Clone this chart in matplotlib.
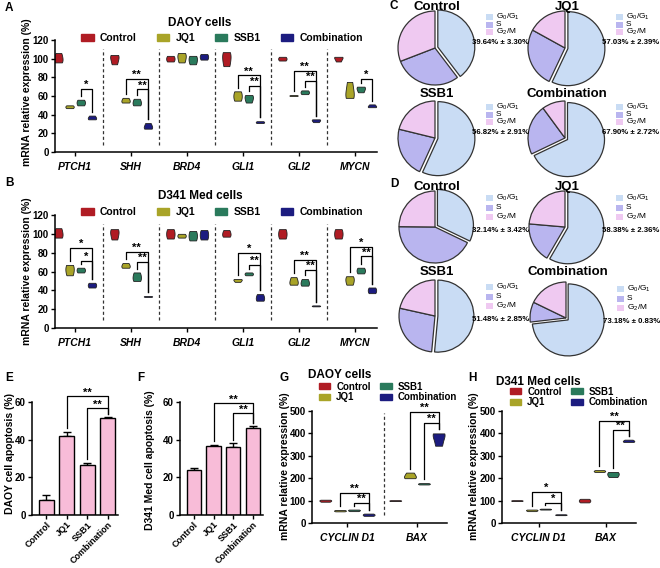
import numpy as np
import matplotlib
matplotlib.use('Agg')
import matplotlib.pyplot as plt
from matplotlib.patches import Patch, Rectangle

plt.rcParams['font.family'] = ['Liberation Sans', 'DejaVu Sans']
plt.rcParams['font.weight'] = 'bold'
plt.rcParams['mathtext.fontset'] = 'custom'
plt.rcParams['mathtext.rm'] = 'Liberation Sans'
plt.rcParams['axes.linewidth'] = 1.1

# ---- data ----
groups = ['Control', 'JQ1', 'SSB1', 'Combination']
genes = ['PTCH1', 'SHH', 'BRD4', 'GLI1', 'GLI2', 'MYCN']

# A: DAOY, three replicates per gene
daoy_control = [(96, 100, 106), (94, 101, 104), (97, 100, 103), (92, 101, 107), (98, 100, 102), (97, 101, 102)]
daoy_jq1 = [(47, 48.5, 50), (53, 55, 58), (96, 102, 106), (55, 60, 65), (60, 60.5, 61), (58, 63, 75)]
daoy_ssb1 = [(50, 53, 56), (50, 53, 57), (94, 99, 103), (53, 58, 61), (62, 64, 66), (64, 68, 70)]
daoy_comb = [(35, 36.5, 39), (25, 27, 31), (99, 102, 105), (31, 32, 33), (32, 34, 35), (48, 49, 51)]
# (gene, compared group, bracket height, label)
daoy_sig = [(0, 2, 68, '*'), (1, 1, 78, '**'), (1, 2, 67, '**'), (3, 1, 82, '**'), (3, 2, 71, '**'),
            (4, 1, 87, '**'), (4, 2, 76, '**'), (5, 2, 78, '*')]

# B: D341 Med
d341_control = [(96, 100, 106), (94, 101, 105), (95, 100, 105), (97, 100, 104), (95, 100, 105), (95, 100, 105)]
d341_jq1 = [(56, 62, 67), (64, 66, 69), (96, 98, 100), (49, 51, 52), (46, 49, 54), (46, 51, 55)]
d341_ssb1 = [(59, 61.5, 64), (50, 54, 59), (93, 98, 103), (56, 57.5, 59), (45, 48, 52), (58, 61, 64)]
d341_comb = [(43, 45.5, 48), (33, 33.5, 34), (94, 99, 104), (29, 32, 36), (23, 23.5, 24), (37, 40, 43)]
d341_sig = [(0, 1, 85, '*'), (0, 2, 71, '*'), (1, 1, 81, '**'), (1, 2, 70, '**'), (3, 1, 80, '*'),
            (3, 2, 67, '**'), (4, 1, 72, '**'), (4, 2, 62, '**'), (5, 1, 86, '*'), (5, 2, 76, '**')]

# C / D: cell cycle (G0/G1, S, G2/M)
phases = [r'$\mathregular{G_0/G_1}$', 'S', r'$\mathregular{G_2/M}$']
daoy_cycle_control = [39.64, 29.5, 30.86]
daoy_cycle_jq1 = [57.03, 26.0, 16.97]
daoy_cycle_ssb1 = [56.82, 22.0, 21.18]
daoy_cycle_comb = [67.90, 22.0, 10.10]
daoy_g1_sd = [3.30, 2.39, 2.91, 2.72]
d341_cycle_control = [32.14, 43.0, 24.86]
d341_cycle_jq1 = [58.38, 18.0, 23.62]
d341_cycle_ssb1 = [51.48, 27.0, 21.52]
d341_cycle_comb = [73.18, 9.0, 17.82]
d341_g1_sd = [3.42, 2.36, 2.85, 0.83]

# E / F: apoptosis
daoy_apop = [8, 42, 26.5, 51.5]
daoy_apop_err = [2.7, 2.0, 1.0, 0.6]
daoy_apop_sig = [(1, 63, '**'), (2, 57, '**')]
d341_apop = [24, 36.5, 36, 46]
d341_apop_err = [1.0, 0.8, 2.0, 1.2]
d341_apop_sig = [(1, 59.5, '**'), (2, 54, '**')]

# G / H: CYCLIN D1, BAX
genes2 = ['CYCLIN D1', 'BAX']
daoy2_control = [(95, 100, 104), (98, 100, 102)]
daoy2_jq1 = [(52, 55, 58), (200, 208, 225)]
daoy2_ssb1 = [(53, 57, 60), (172, 175, 178)]
daoy2_comb = [(32, 37, 42), (345, 392, 400)]
daoy2_sig = [(0, 1, 134, '**'), (0, 2, 89, '**'), (1, 1, 495, '**'), (1, 2, 446, '**')]
d3412_control = [(98, 100, 102), (92, 100, 108)]
d3412_jq1 = [(53, 57, 60), (228, 232, 236)]
d3412_ssb1 = [(60, 62, 64), (205, 218, 228)]
d3412_comb = [(35, 37, 39), (362, 366, 372)]
d3412_sig = [(0, 1, 138, '*'), (0, 2, 89, '*'), (1, 1, 455, '**'), (1, 2, 415, '**')]

grp_colors = ['#b01c24', '#a9a428', '#2a7a5c', '#1c1c80']
pie_colors = ['#c9dcf4', '#b9b5ef', '#efc9f1']
bar_color = '#f8bcd8'

W, H = 660, 568
fig = plt.figure(figsize=(W / 100, H / 100), dpi=100)


def fx(x):
    return x / W


def fy(y):
    return 1 - y / H


def px_axes(l, t, r, b):
    return fig.add_axes([l / W, 1 - b / H, (r - l) / W, (b - t) / H])


def style_axes(ax):
    ax.spines['top'].set_visible(False)
    ax.spines['right'].set_visible(False)
    ax.tick_params(length=3, width=1, labelsize=7, pad=1.5)


def violin_panel(ax, sets, offsets, width, labels, sig, gap, seps, sep_range):
    for gi, data in enumerate(sets):
        pos = np.arange(len(data)) + offsets[gi]
        parts = ax.violinplot([list(d) for d in data], positions=pos, widths=width,
                              showextrema=False)
        for b in parts['bodies']:
            b.set_facecolor(grp_colors[gi])
            b.set_edgecolor('#222222')
            b.set_linewidth(0.6)
            b.set_alpha(1)
    for x in seps:
        ax.plot([x, x], sep_range, ls=(0, (2.5, 2)), color='#333333', lw=0.9)
    for gene_i, left, y, lab in sig:
        x1 = gene_i + offsets[left]
        x2 = gene_i + offsets[3]
        y1 = max(sets[left][gene_i]) + gap
        y2 = max(sets[3][gene_i]) + gap
        ax.plot([x1, x1, x2, x2], [y1, y, y, y2], color='k', lw=0.9, clip_on=False)
        ax.text((x1 + x2) / 2, y - gap * 0.3, lab, ha='center', va='bottom', fontsize=8,
                fontweight='bold', clip_on=False)
    style_axes(ax)
    ax.set_xticks(np.arange(len(labels)))
    ax.set_xticklabels(labels, fontstyle='italic', fontsize=7.5)
    ax.tick_params(axis='x', pad=4)


def group_legend(x, y, ncol, fs, colsp):
    handles = [Patch(facecolor=c, edgecolor=c) for c in grp_colors]
    fig.legend(handles, groups, ncol=ncol, loc='center', bbox_to_anchor=(fx(x), fy(y)),
               frameon=False, fontsize=fs, handlelength=1.2, handleheight=0.6,
               handletextpad=0.6, columnspacing=colsp, labelspacing=0.1, borderpad=0)


# ---- A ----
ax = px_axes(55, 40, 377, 152)
violin_panel(ax, [daoy_control, daoy_jq1, daoy_ssb1, daoy_comb], [-0.3, -0.1, 0.1, 0.3],
             0.15, genes, daoy_sig, 4, [0.5, 1.5, 2.5, 3.5, 4.5], [8, 110])
ax.set_xlim(-0.36, 5.39)
ax.set_ylim(0, 120)
ax.set_yticks(range(0, 121, 20))
fig.text(fx(27), fy(92), 'mRNA relative expression (%)', rotation=90, ha='center', va='center', fontsize=7.5)
fig.text(fx(200), fy(23), 'DAOY cells', ha='center', va='center', fontsize=8.5)
group_legend(222, 38, 4, 7.5, 1.9)

# ---- B ----
ax = px_axes(55, 215, 377, 328)
violin_panel(ax, [d341_control, d341_jq1, d341_ssb1, d341_comb], [-0.3, -0.1, 0.1, 0.3],
             0.15, genes, d341_sig, 4, [0.5, 1.5, 2.5, 3.5, 4.5], [8, 110])
ax.set_xlim(-0.36, 5.39)
ax.set_ylim(0, 120)
ax.set_yticks(range(0, 121, 20))
fig.text(fx(27), fy(271), 'mRNA relative expression (%)', rotation=90, ha='center', va='center', fontsize=7.5)
fig.text(fx(200), fy(196), 'D341 Med cells', ha='center', va='center', fontsize=8.5)
group_legend(222, 212, 4, 7.5, 1.9)


# ---- C / D ----
def pie_block(cycles, sds, centers, r, row_dy, pct_dy, title_y):
    for k, (vals, sd, (cx, cy)) in enumerate(zip(cycles, sds, centers)):
        h = 1.3 * r
        pax = px_axes(cx - h, cy - h, cx + h, cy + h)
        pax.pie(vals, colors=pie_colors, startangle=90, counterclock=False,
                explode=(0.08, 0, 0), radius=1,
                wedgeprops=dict(edgecolor='#333333', linewidth=0.9))
        pax.set_xlim(-1.3, 1.3)
        pax.set_ylim(-1.3, 1.3)
        pax.set_aspect('equal')
        fig.text(fx(cx + 2), fy(title_y[k]), groups[k], ha='center', va='center', fontsize=9.5)
        # small legend: square + phase name
        for c, name, dy in zip(pie_colors, phases, row_dy):
            sx, sy = cx + 51, cy + dy
            fig.patches.append(Rectangle((fx(sx), fy(sy + 3)), 7 / W, 6 / H, facecolor=c,
                                         edgecolor='none', transform=fig.transFigure, figure=fig))
            fig.text(fx(sx + 10), fy(sy), name, ha='left', va='center', fontsize=6,
                     fontweight='normal')
        fig.text(fx(cx + 37), fy(cy + pct_dy), '%.2f%% \u00b1 %.2f%%' % (vals[0], sd),
                 ha='left', va='center', fontsize=5.6)


pie_block([daoy_cycle_control, daoy_cycle_jq1, daoy_cycle_ssb1, daoy_cycle_comb], daoy_g1_sd,
          [(435, 48), (565, 48), (435, 138), (565, 138)], 37, [-31, -23.5, -16], -6,
          [7, 7, 94, 94])
pie_block([d341_cycle_control, d341_cycle_jq1, d341_cycle_ssb1, d341_cycle_comb], d341_g1_sd,
          [(435, 227), (565, 227), (435, 316), (566, 318)], 36, [-29.5, -19.5, -10], 3.5,
          [187, 187, 272, 272])


# ---- E / F ----
def bar_panel(l, r, vals, errs, sig, ylabel, ylab_x, ylab_y):
    ax = px_axes(l, 402, r, 515)
    x = np.arange(len(vals))
    ax.bar(x, vals, width=0.72, color=bar_color, edgecolor='k', linewidth=1, zorder=2)
    ax.errorbar(x, vals, yerr=[np.zeros(len(errs)), errs], fmt='none', ecolor='k',
                elinewidth=1, capsize=3, capthick=1, zorder=1)
    for left, y, lab in sig:
        y1 = vals[left] + errs[left] + 2
        y2 = vals[3] + errs[3] + 1.5
        ax.plot([left, left, 3, 3], [y1, y, y, y2], color='k', lw=0.9, clip_on=False)
        ax.text((left + 3) / 2, y - 1, lab, ha='center', va='bottom', fontsize=8, clip_on=False)
    style_axes(ax)
    ax.set_xlim(-0.7, 3.5)
    ax.set_ylim(0, 60)
    ax.set_yticks(range(0, 61, 20))
    ax.set_xticks(x)
    ax.set_xticklabels(groups, rotation=45, ha='right', rotation_mode='anchor', fontsize=6.5)
    ax.tick_params(axis='x', pad=0.5)
    fig.text(fx(ylab_x), fy(ylab_y), ylabel, rotation=90, ha='center', va='center', fontsize=7.5)


bar_panel(32, 118, daoy_apop, daoy_apop_err, daoy_apop_sig, 'DAOY cell apoptosis (%)', 10, 453)
bar_panel(180, 263, d341_apop, d341_apop_err, d341_apop_sig, 'D341 Med cell apoptosis (%)', 150, 460)

# ---- G ----
ax = px_axes(312, 411, 447, 523)
violin_panel(ax, [daoy2_control, daoy2_jq1, daoy2_ssb1, daoy2_comb], [-0.31, -0.1, 0.1, 0.31],
             0.17, genes2, daoy2_sig, 18, [0.53], [35, 490])
ax.set_xlim(-0.5, 1.43)
ax.set_ylim(0, 500)
ax.set_yticks(range(0, 501, 100))
fig.text(fx(285), fy(466), 'mRNA relative expression (%)', rotation=90, ha='center', va='center', fontsize=7.5)
fig.text(fx(340), fy(375), 'DAOY cells', ha='center', va='center', fontsize=8.5)
group_legend(388, 392, 2, 7, 1.0)

# ---- H ----
ax = px_axes(502, 411, 636, 523)
violin_panel(ax, [d3412_control, d3412_jq1, d3412_ssb1, d3412_comb], [-0.32, -0.1, 0.1, 0.33],
             0.17, genes2, d3412_sig, 18, [], [0, 0])
ax.set_xlim(-0.54, 1.44)
ax.set_ylim(0, 500)
ax.set_yticks(range(0, 501, 100))
fig.text(fx(474), fy(466), 'mRNA relative expression (%)', rotation=90, ha='center', va='center', fontsize=7.5)
fig.text(fx(538), fy(382), 'D341 Med cells', ha='center', va='center', fontsize=8.5)
group_legend(579, 397, 2, 7, 1.0)

# panel letters
for lab, x, y in [('A', 5, 8), ('B', 5, 183), ('C', 390, 6), ('D', 390, 184),
                  ('E', 5, 378), ('F', 137, 378), ('G', 280, 378), ('H', 468, 378)]:
    fig.text(fx(x), fy(y), lab, ha='left', va='center', fontsize=8.5)

fig.savefig('out.png', dpi=100)
